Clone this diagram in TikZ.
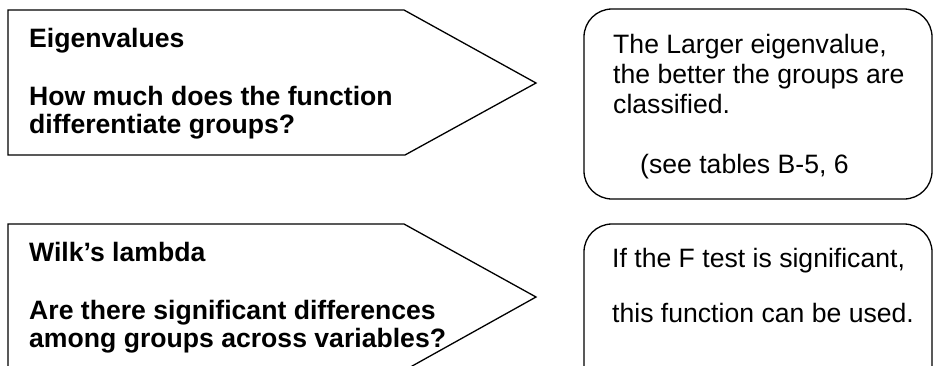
\documentclass[tikz,border=0pt]{standalone}
\usepackage{fontspec}
\setmainfont{Liberation Sans}
\usetikzlibrary{positioning}

\begin{document}
\begin{tikzpicture}[
        x=1pt, y=-1pt,
        % Style for the pointed boxes on the left
        arrowbox/.style={
            draw=black,
            line width=1.3pt,
            line join=miter
        },
        % Style for the rounded boxes on the right
        notebox/.style={
            draw=black,
            line width=1.3pt,
            rounded corners=28pt
        },
        % Style for bold lines
        headtext/.style={
            anchor=base west,
            inner sep=0pt,
            font=\fontsize{26.6}{30.6}\selectfont\bfseries
        },
        % Style for plain lines
        bodytext/.style={
            anchor=base west,
            inner sep=0pt,
            font=\fontsize{26.6}{30.6}\selectfont
        }
    ]

        \useasboundingbox (0,0) rectangle (933,365);
        \clip (0,0) rectangle (933,365);

        % --- POINTED BOXES ---
        \draw[arrowbox] (8,10) -- (404,10) -- (536,83) -- (405,155) -- (8,155) -- cycle;
        \draw[arrowbox] (8,224) -- (404,224) -- (536,297) -- (405,370) -- (8,370) -- cycle;

        % --- ROUNDED BOXES ---
        \draw[notebox] (584,9) rectangle (932,199);
        \draw[notebox] (584,224) rectangle (932,400);

        % --- TEXT: EIGENVALUES ---
        \node[headtext] (e0) at (29,47) {Eigenvalues};
        \node[headtext] (e1) at (29,105) {How much does the function};
        \node[headtext] (e2) at (29,133) {differentiate groups?};

        % --- TEXT: WILK'S LAMBDA ---
        \node[headtext] (w0) at (29,261) {Wilk’s lambda};
        \node[headtext] (w1) at (29,319) {Are there significant differences};
        \node[headtext] (w2) at (29,347) {among groups across variables?};

        % --- TEXT: RIGHT NOTES ---
        \node[bodytext] (n1) at (613,53) {The Larger eigenvalue,};
        \node[bodytext] (n2) at (613,83) {the better the groups are};
        \node[bodytext] (n3) at (613,113) {classified.};
        \node[bodytext] (n4) at (640,173) {(see tables B-5, 6};

        \node[bodytext] (f1) at (612,267) {If the F test is significant,};
        \node[bodytext] (f2) at (612,322) {this function can be used.};

    \end{tikzpicture}
\end{document}
